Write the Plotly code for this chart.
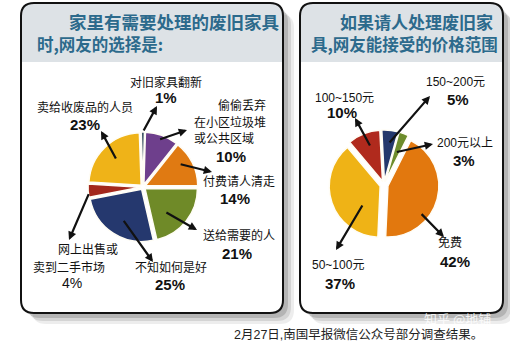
import math
import plotly.graph_objects as go

W, H = 510, 348

# ---- data -------------------------------------------------------------
left_names = ["对旧家具翻新", "偷偷丢弃在小区垃圾堆或公共区域", "付费请人清走",
              "送给需要的人", "不知如何是好", "网上出售或卖到二手市场", "卖给收废品的人员"]
left_values = [1, 10, 14, 21, 25, 4, 23]
left_lines = [["对旧家具翻新"], ["偷偷丢弃", "在小区垃圾堆", "或公共区域"], ["付费请人清走"],
              ["送给需要的人"], ["不知如何是好"], ["网上出售或", "卖到二手市场"], ["卖给收废品的人员"]]
left_colors = ["#3e5566", "#6e3f8c", "#e07a12", "#6f8a28", "#25386e", "#a3281c", "#efb318"]

right_names = ["150~200元", "200元以上", "免费", "50~100元", "100~150元"]
right_values = [5, 3, 42, 37, 10]
right_colors = ["#24386c", "#6d8c2c", "#e2780e", "#efb316", "#b02a1d"]

left_title = ["家里有需要处理的废旧家具", "时,网友的选择是:"]
right_title = ["如果请人处理废旧家", "具,网友能接受的价格范围"]
caption = "2月27日,南国早报微信公众号部分调查结果。"
watermark = "知乎 @地铺"

# ---- layout helpers (pixel coordinates, y downward) ---------------------
def px(x):
    return x / W


def py(y):
    return 1 - y / H


def rounded_path(x0, y0, x1, y1, r, top_only=False):
    pts = []
    pts.append(f"M{px(x0)},{py(y0 + r)}")
    pts.append(f"Q{px(x0)},{py(y0)} {px(x0 + r)},{py(y0)}")
    pts.append(f"L{px(x1 - r)},{py(y0)}")
    pts.append(f"Q{px(x1)},{py(y0)} {px(x1)},{py(y0 + r)}")
    if top_only:
        pts.append(f"L{px(x1)},{py(y1)}")
        pts.append(f"L{px(x0)},{py(y1)}")
    else:
        pts.append(f"L{px(x1)},{py(y1 - r)}")
        pts.append(f"Q{px(x1)},{py(y1)} {px(x1 - r)},{py(y1)}")
        pts.append(f"L{px(x0 + r)},{py(y1)}")
        pts.append(f"Q{px(x0)},{py(y1)} {px(x0)},{py(y1 - r)}")
    pts.append("Z")
    return " ".join(pts)


def slice_point(pie, values, idx, afrac, rfrac):
    cx, cy, half, pull, rot = pie["cx"], pie["cy"], pie["half"], pie["pull"], pie["rotation"]
    r = half / (1 + pull)
    total = sum(values)
    start = rot + 360 * sum(values[:idx]) / total
    span = 360 * values[idx] / total
    mid = math.radians(start + span / 2)
    ang = math.radians(start + span * afrac)
    x = cx + pull * r * math.sin(mid) + rfrac * r * math.sin(ang)
    y = cy - pull * r * math.cos(mid) - rfrac * r * math.cos(ang)
    return x, y


LEFT_PIE = dict(cx=143, cy=187, half=55, pull=0.05, rotation=-2)
RIGHT_PIE = dict(cx=384, cy=185, half=55, pull=0.08, rotation=-3)

# label placement: text line centres, percent centre, arrow head, arrow tail (slice frac, radius frac)
left_place = [
    dict(lines=[(166, 82)], pct=(166, 98), head=(157, 106), tail=(0.5, 1.0), bold=True),
    dict(lines=[(242, 105), (230, 122), (224, 139)], pct=(231, 156), head=(187, 130), tail=(0.45, 0.9), bold=True),
    dict(lines=[(239, 182)], pct=(235, 198), head=(212, 172), tail=(0.36, 0.77), bold=True),
    dict(lines=[(239, 235)], pct=(237, 253), head=(197, 230), tail=(0.64, 0.58), bold=True),
    dict(lines=[(171, 267)], pct=(170, 284), head=(153, 262), tail=(0.49, 0.68), bold=True),
    dict(lines=[(88, 250), (69, 267)], pct=(72, 283), head=(69, 240), tail=(0.35, 0.98), bold=False),
    dict(lines=[(85, 107)], pct=(85, 124), head=(101, 131), tail=(0.5, 0.67), bold=True),
]
right_place = [
    dict(lines=[(455, 82)], pct=(458, 99), head=(430, 96), tail=(0.48, 0.73), bold=True),
    dict(lines=[(465, 143)], pct=(464, 160), head=(433, 144), tail=(0.3, 0.6), bold=True),
    dict(lines=[(450, 242)], pct=(455, 261), head=(444, 237), tail=(0.66, 0.82), bold=True),
    dict(lines=[(338, 265)], pct=(340, 283), head=(336, 250), tail=(0.3, 0.48), bold=True),
    dict(lines=[(344, 98)], pct=(342, 112), head=(355, 118), tail=(0.57, 0.71), bold=True),
]

CJK = "Noto Sans CJK SC"
LAT = "Liberation Sans, Noto Sans CJK SC"

fig = go.Figure()


def add_pie(pie, names, values, colors):
    fig.add_trace(go.Pie(
        labels=names, values=values, sort=False, direction="clockwise",
        rotation=pie["rotation"], pull=pie["pull"],
        marker=dict(colors=colors, line=dict(color="#fffdf5", width=1.5)),
        textinfo="none", hoverinfo="skip", showlegend=False,
        domain=dict(x=[px(pie["cx"] - pie["half"]), px(pie["cx"] + pie["half"])],
                    y=[py(pie["cy"] + pie["half"]), py(pie["cy"] - pie["half"])]),
    ))


add_pie(LEFT_PIE, left_names, left_values, left_colors)
add_pie(RIGHT_PIE, right_names, right_values, right_colors)

shapes = []
for (x0, y0, x1, y1) in [(21, 3, 283, 313), (300, 3, 503, 313)]:
    # soft drop shadow
    for off, alpha in [(11, 0.07), (8, 0.1), (5, 0.15)]:
        shapes.append(dict(type="path", path=rounded_path(x0 + off, y0 + off, x1 + off, y1 + off, 14),
                           xref="paper", yref="paper", fillcolor=f"rgba(0,0,0,{alpha})",
                           line=dict(width=0), layer="below"))
for (x0, y0, x1, y1) in [(21, 3, 283, 313), (300, 3, 503, 313)]:
    shapes.append(dict(type="path", path=rounded_path(x0, y0, x1, y1, 13),
                       xref="paper", yref="paper", fillcolor="white",
                       line=dict(width=0), layer="below"))
    shapes.append(dict(type="path", path=rounded_path(x0, y0, x1, 62, 13, top_only=True),
                       xref="paper", yref="paper", fillcolor="#dde2e6",
                       line=dict(width=0), layer="below"))
    shapes.append(dict(type="path", path=rounded_path(x0, y0, x1, y1, 13),
                       xref="paper", yref="paper", fillcolor="rgba(0,0,0,0)",
                       line=dict(color="#111", width=2), layer="below"))

annotations = []


def text(x, y, s, size, family=CJK, color="#111", anchor="center"):
    annotations.append(dict(x=px(x), y=py(y), xref="paper", yref="paper", text=s, showarrow=False,
                            xanchor=anchor, yanchor="middle", font=dict(size=size, family=family, color=color)))


def label_block(pie, values, places, label_texts):
    for i, pl in enumerate(places):
        for s, (x, y) in zip(label_texts[i], pl["lines"]):
            text(x, y, s, 12, family=LAT)
        pct = f"{values[i]}%"
        if pl["bold"]:
            text(pl["pct"][0], pl["pct"][1], f"<b>{pct}</b>", 15, family=LAT)
        else:
            text(pl["pct"][0], pl["pct"][1], pct, 14, family=LAT)
        tx, ty = slice_point(pie, values, i, *pl["tail"])
        hx, hy = pl["head"]
        annotations.append(dict(x=px(hx), y=py(hy), xref="paper", yref="paper", text="",
                                showarrow=True, ax=tx - hx, ay=ty - hy, axref="pixel", ayref="pixel",
                                arrowhead=2, arrowsize=0.75, arrowwidth=2.2, arrowcolor="#111",
                                standoff=0, startstandoff=0))


label_block(LEFT_PIE, left_values, left_place, left_lines)
label_block(RIGHT_PIE, right_values, right_place, [[n] for n in right_names])

TITLE_C = "#2c6a8c"
text(281, 22, f"<b>{left_title[0]}</b>", 17.5, color=TITLE_C, anchor="right")
text(35, 44, f"<b>{left_title[1]}</b>", 16.5, color=TITLE_C, anchor="left")
text(495, 22, f"<b>{right_title[0]}</b>", 17, color=TITLE_C, anchor="right")
text(309, 44, f"<b>{right_title[1]}</b>", 16.5, color=TITLE_C, anchor="left")

text(358, 334, caption, 12.5, family=LAT, color="#222")
text(457, 318, watermark, 13, color="rgba(255,255,255,0.85)")

fig.update_layout(
    width=W, height=H, margin=dict(l=0, r=0, t=0, b=0),
    paper_bgcolor="white", plot_bgcolor="white",
    shapes=shapes, annotations=annotations,
)

fig.write_html("out.html")
